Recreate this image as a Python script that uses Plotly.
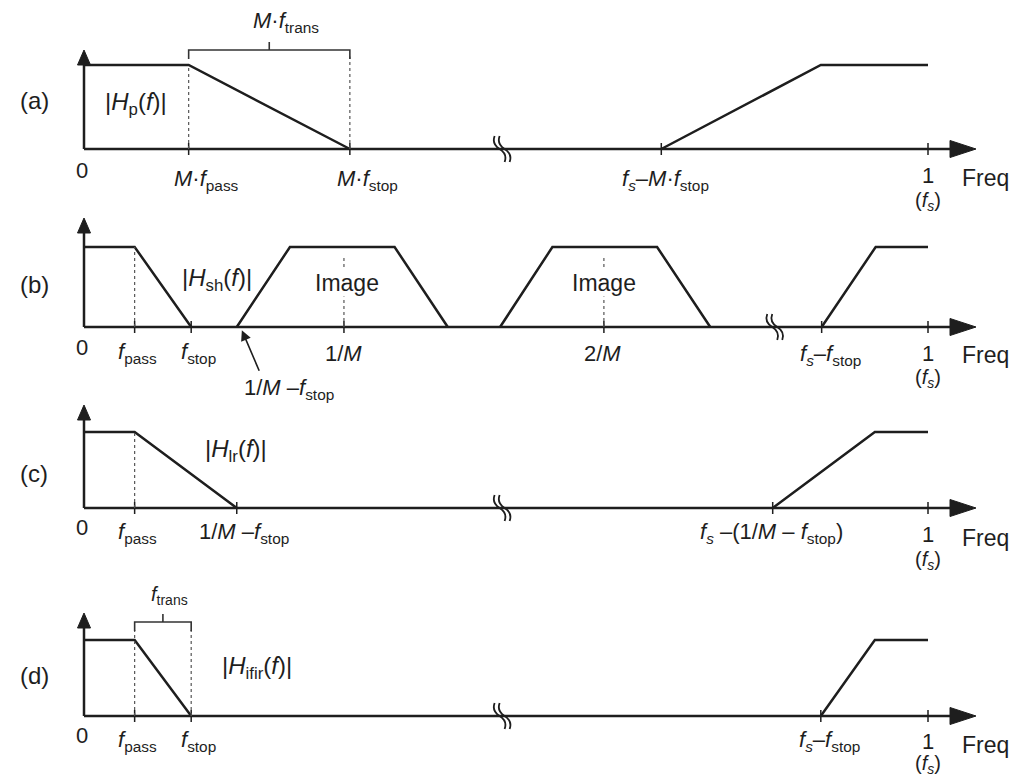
import plotly.graph_objects as go

# eixo de frequencia normalizado: 0 = origem, 1 = fs (com quebra, nao linear)

# (a) prototipo |Hp(f)|
a_resp_x = [0, 0.124, 0.315]
a_resp_y = [1, 1, 0]
a_alias_x = [0.684, 0.873, 1.0]
a_alias_y = [0, 1, 1]
a_tick_vals = [0, 0.124, 0.315, 0.684, 1.0]
a_tick_text = ['0', '<i>M</i>·<i>f</i><sub>pass</sub>', '<i>M</i>·<i>f</i><sub>stop</sub>',
               '<i>f<sub>s</sub></i>–<i>M</i>·<i>f</i><sub>stop</sub>', '1']

# (b) filtro esticado |Hsh(f)| e imagens
b_resp_x = [0, 0.060, 0.127]
b_resp_y = [1, 1, 0]
b_img1_x = [0.181, 0.244, 0.368, 0.431]
b_img2_x = [0.493, 0.555, 0.679, 0.742]
b_img_y = [0, 1, 1, 0]
b_alias_x = [0.874, 0.938, 1.0]
b_alias_y = [0, 1, 1]
b_tick_vals = [0, 0.060, 0.127, 0.308, 0.616, 0.874, 1.0]
b_tick_text = ['0', '<i>f</i><sub>pass</sub>', '<i>f</i><sub>stop</sub>', '1/<i>M</i>', '2/<i>M</i>',
               '<i>f<sub>s</sub></i>–<i>f</i><sub>stop</sub>', '1']

# (c) |Hlr(f)|
c_resp_x = [0, 0.060, 0.181]
c_resp_y = [1, 1, 0]
c_alias_x = [0.816, 0.937, 1.0]
c_alias_y = [0, 1, 1]
c_tick_vals = [0, 0.060, 0.181, 0.816, 1.0]
c_tick_text = ['0', '<i>f</i><sub>pass</sub>', '1/<i>M</i> –<i>f</i><sub>stop</sub>',
               '<i>f<sub>s</sub></i> –(1/<i>M</i> – <i>f</i><sub>stop</sub>)', '1']

# (d) |Hifir(f)|
d_resp_x = [0, 0.060, 0.127]
d_resp_y = [1, 1, 0]
d_alias_x = [0.873, 0.937, 1.0]
d_alias_y = [0, 1, 1]
d_tick_vals = [0, 0.060, 0.127, 0.873, 1.0]
d_tick_text = ['0', '<i>f</i><sub>pass</sub>', '<i>f</i><sub>stop</sub>',
               '<i>f<sub>s</sub></i>–<i>f</i><sub>stop</sub>', '1']

FONT = 'Liberation Sans, Arial, sans-serif'
FS = 22
FB = 24
COR = '#1e1e1e'
W, H = 1013, 776
X0PX, X1PX = 84, 928           # pixel da origem e de fs
UX = X1PX - X0PX

fig = go.Figure()
shapes = []
annots = []


def txt(text, x, y, xref, yref, xs=0, ys=0, size=FS, bg=None):
    d = dict(text=text, x=x, y=y, xref=xref, yref=yref, xshift=xs, yshift=ys,
             showarrow=False, xanchor='center', yanchor='middle',
             font=dict(family=FONT, size=size, color=COR))
    if bg:
        d['bgcolor'] = bg
        d['borderpad'] = 0
    annots.append(d)


def painel(n, base, unit, rng, tip, brk, tvals, ttext, dx, dy, fs_dy, freq_dy):
    xa = 'x' if n == 1 else 'x%d' % n
    ya = 'y' if n == 1 else 'y%d' % n
    dom = [1 - (base - rng[0] * unit) / H, 1 - (base - rng[1] * unit) / H]
    fig.update_layout(**{
        ('xaxis' if n == 1 else 'xaxis%d' % n): dict(range=[-X0PX / UX, (W - X0PX) / UX], domain=[0, 1],
                                                   visible=False, anchor=ya, fixedrange=True),
        ('yaxis' if n == 1 else 'yaxis%d' % n): dict(range=rng, domain=dom, visible=False,
                                                   anchor=xa, fixedrange=True),
    })
    # eixo horizontal + seta
    fim = (950 - X0PX) / UX
    shapes.append(dict(type='line', xref=xa, yref=ya, x0=0, x1=fim, y0=0, y1=0,
                       line=dict(color=COR, width=2.5)))
    shapes.append(dict(type='path', xref=xa, yref=ya, xsizemode='pixel', ysizemode='pixel',
                       xanchor=fim, yanchor=0, path='M0,-8.5 L26,0 L0,8.5 Z',
                       fillcolor=COR, line=dict(color=COR, width=1)))
    # eixo vertical + seta
    shapes.append(dict(type='line', xref=xa, yref=ya, ysizemode='pixel', yanchor=0,
                       x0=0, x1=0, y0=0, y1=tip - 14, line=dict(color=COR, width=2.5)))
    shapes.append(dict(type='path', xref=xa, yref=ya, xsizemode='pixel', ysizemode='pixel',
                       xanchor=0, yanchor=0, path='M-6.5,%d L0,%d L6.5,%d Z' % (tip - 15, tip, tip - 15),
                       fillcolor=COR, line=dict(color=COR, width=1)))
    # quebra do eixo
    shapes.append(dict(type='path', xref=xa, yref=ya, xsizemode='pixel', ysizemode='pixel',
                       xanchor=brk, yanchor=0,
                       path='M-8,13 Q-11,5 -3,0 Q5,-5 2,-13 M-3,13 Q-6,5 2,0 Q10,-5 7,-13',
                       line=dict(color=COR, width=1.8)))
    # marcas e rotulos
    for v, t, sx, sy in zip(tvals, ttext, dx, dy):
        if v > 0:
            shapes.append(dict(type='line', xref=xa, yref=ya, ysizemode='pixel', yanchor=0,
                               x0=v, x1=v, y0=-6, y1=6, line=dict(color=COR, width=1.5)))
        txt(t, v, 0, xa, ya, xs=sx, ys=-sy)
    txt('(<i>f<sub>s</sub></i>)', 1.0, 0, xa, ya, ys=-fs_dy, size=FS - 2)
    txt('Freq', 1.0, 0, xa, ya, xs=57, ys=-freq_dy, size=FB - 1)
    return xa, ya


def linha(xa, ya, x, y):
    fig.add_trace(go.Scatter(x=x, y=y, xaxis=xa, yaxis=ya, mode='lines',
                             line=dict(color=COR, width=2.5), hoverinfo='skip'))


def pontilhado(xa, ya, x, y0, y1):
    shapes.append(dict(type='line', xref=xa, yref=ya, x0=x, x1=x, y0=y0, y1=y1,
                       line=dict(color='#555555', width=1.2, dash='dot')))


def chave(xa, ya, xl, xr, h):
    m = (xl + xr) / 2
    shapes.append(dict(type='path', xref=xa, yref=ya, ysizemode='pixel', yanchor=0,
                       path='M%f,%d L%f,%d L%f,%d L%f,%d M%f,%d L%f,%d' % (
                           xl, h - 9, xl, h, xr, h, xr, h - 9, m, h, m, h + 8),
                       line=dict(color='#333333', width=1.6)))


# ---------- (a) ----------
xa, ya = painel(1, 149, 84, [-0.7, 1.75], 99, 0.496, a_tick_vals, a_tick_text,
                [-2, 18, 18, 4, 0], [21, 31, 31, 31, 26], 52, 29)
pontilhado(xa, ya, a_tick_vals[1], 0, 1)
pontilhado(xa, ya, a_tick_vals[2], 0, 1.1)
chave(xa, ya, a_tick_vals[1], a_tick_vals[2], 99)
linha(xa, ya, a_resp_x, a_resp_y)
linha(xa, ya, a_alias_x, a_alias_y)
txt('<i>M</i>·<i>f</i><sub>trans</sub>', (a_tick_vals[1] + a_tick_vals[2]) / 2, 0, xa, ya, xs=17, ys=127)
txt('|<i>H</i><sub>p</sub>(<i>f</i>)|', 0.0616, 0, xa, ya, ys=46, size=FB)
txt('(a)', 0, 0, xa, ya, xs=-50, ys=49, size=FB)

# ---------- (b) ----------
xa, ya = painel(2, 327, 80, [-0.93, 1.45], 109, 0.819, b_tick_vals, b_tick_text,
                [-2, 3, 7, 0, -1, 9, 0], [21, 26, 26, 27, 27, 28, 27], 52, 28)
pontilhado(xa, ya, b_tick_vals[1], 0, 1)
pontilhado(xa, ya, b_tick_vals[3], 0, 0.88)
pontilhado(xa, ya, b_tick_vals[4], 0, 0.88)
linha(xa, ya, b_resp_x, b_resp_y)
linha(xa, ya, b_img1_x, b_img_y)
linha(xa, ya, b_img2_x, b_img_y)
linha(xa, ya, b_alias_x, b_alias_y)
txt('Image', b_tick_vals[3], 0, xa, ya, xs=3, ys=44, bg='white', size=FB - 1)
txt('Image', b_tick_vals[4], 0, xa, ya, xs=0, ys=44, bg='white', size=FB - 1)
txt('|<i>H</i><sub>sh</sub>(<i>f</i>)|', 0.158, 0, xa, ya, ys=47, size=FB)
txt('(b)', 0, 0, xa, ya, xs=-50, ys=42, size=FB)
txt('1/<i>M</i> –<i>f</i><sub>stop</sub>', b_img1_x[0], 0, xa, ya, xs=52, ys=-62)
annots.append(dict(text='', x=0.187, y=-0.04, xref=xa, yref=ya, showarrow=True,
                   ax=18, ay=42, arrowhead=2, arrowsize=1.3, arrowwidth=1.6, arrowcolor=COR))

# ---------- (c) ----------
xa, ya = painel(3, 508, 76, [-0.9, 1.4], 103, 0.496, c_tick_vals, c_tick_text,
                [-2, 3, 7, -1, 0], [19, 25, 25, 25, 26], 52, 30)
pontilhado(xa, ya, c_tick_vals[1], 0, 1)
linha(xa, ya, c_resp_x, c_resp_y)
linha(xa, ya, c_alias_x, c_alias_y)
txt('|<i>H</i><sub>lr</sub>(<i>f</i>)|', 0.180, 0, xa, ya, ys=58, size=FB)
txt('(c)', 0, 0, xa, ya, xs=-50, ys=35, size=FB)

# ---------- (d) ----------
xa, ya = painel(4, 716, 76, [-0.75, 1.75], 103, 0.496, d_tick_vals, d_tick_text,
                [-2, 3, 7, 9, 0], [19, 25, 25, 25, 25], 48, 29)
pontilhado(xa, ya, d_tick_vals[1], 0, 1.13)
pontilhado(xa, ya, d_tick_vals[2], 0, 1.13)
chave(xa, ya, d_tick_vals[1], d_tick_vals[2], 94)
linha(xa, ya, d_resp_x, d_resp_y)
linha(xa, ya, d_alias_x, d_alias_y)
txt('<i>f</i><sub>trans</sub>', (d_tick_vals[1] + d_tick_vals[2]) / 2, 0, xa, ya, xs=7, ys=121, size=FS - 2)
txt('|<i>H</i><sub>ifir</sub>(<i>f</i>)|', 0.205, 0, xa, ya, ys=49, size=FB)
txt('(d)', 0, 0, xa, ya, xs=-50, ys=41, size=FB)

fig.update_layout(width=W, height=H, margin=dict(l=0, r=0, t=0, b=0),
                  paper_bgcolor='white', plot_bgcolor='white', showlegend=False,
                  shapes=shapes, annotations=annots)

fig.write_html("out.html", config={'displayModeBar': False},
               post_script="document.body.style.margin='0';")
